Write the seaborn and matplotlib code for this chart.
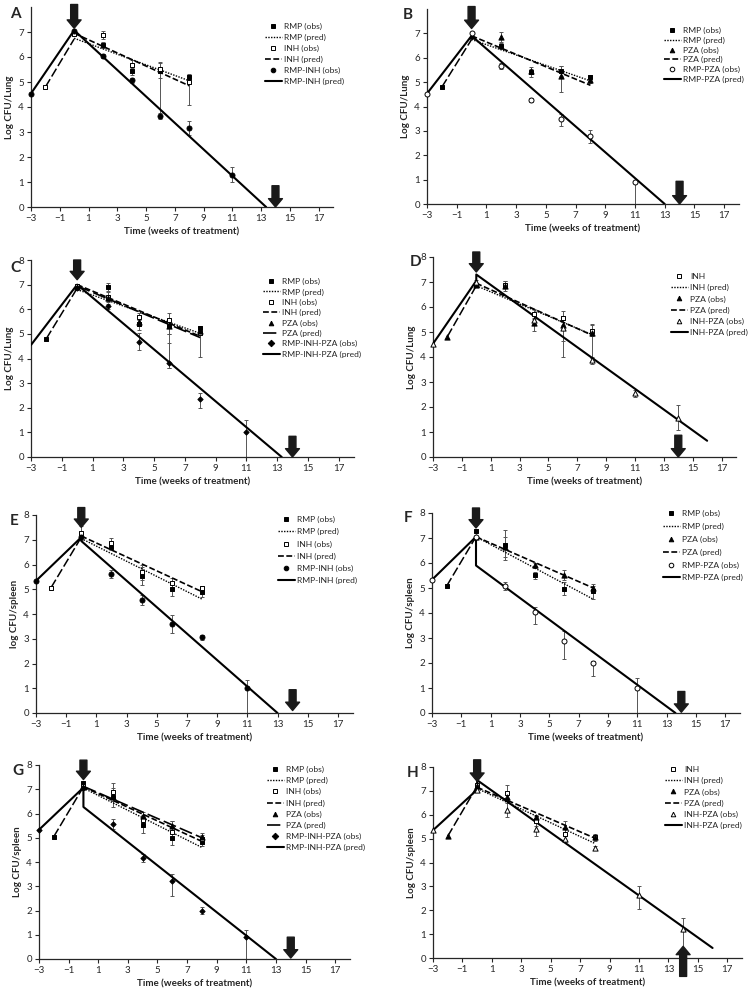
"""Bacterial load (obs vs. model pred) in lung and spleen, panels A-H."""

import matplotlib

matplotlib.use("Agg")
import matplotlib.pyplot as plt
import pandas as pd
import seaborn as sns
from matplotlib.lines import Line2D

# ---- data: (week, log CFU, err down, err up) for obs; (week, log CFU) for pred ----

# A - lung: RMP / INH / RMP-INH
A_RMP_OBS = [(2, 6.50, .12, .12), (4, 5.43, .15, .15), (6, 5.45, .3, .3), (8, 5.22, .1, .1)]
A_INH_OBS = [(-2, 4.80, 0, 0), (0, 6.92, .05, .05), (2, 6.88, .15, .17), (4, 5.70, .2, .2),
             (6, 5.52, 1.96, .28), (8, 5.00, .92, .3)]
A_COMBO_OBS = [(-3, 4.54, 0, 0), (0, 7.05, 0, 0), (2, 6.06, .08, .08), (4, 5.07, .1, .1),
               (6, 3.64, .12, .12), (8, 3.16, .27, .27), (11, 1.30, .3, .3)]
A_RMP_PRED = [(0, 6.75), (8, 5.05)]
A_INH_PRED = [(0, 6.95), (8, 4.85)]
A_COMBO_PRED = [(-3, 4.54), (0, 7.07), (13.35, 0)]
A_RISE = [(-2, 4.80), (0, 6.72)]

# B - lung: RMP / PZA / RMP-PZA
B_RMP_OBS = [(-2, 4.80, 0, 0), (2, 6.48, .12, .12), (4, 5.42, .2, .2), (6, 5.45, .2, .2),
             (8, 5.20, .1, .1)]
B_PZA_OBS = [(0, 6.90, 0, 0), (2, 6.86, .2, .2), (4, 5.45, .1, .1), (6, 5.25, .65, .4),
             (8, 5.08, .1, .1)]
B_COMBO_OBS = [(-3, 4.53, 0, 0), (0, 7.03, 0, 0), (2, 5.66, .12, .12), (4, 4.28, .08, .08),
               (6, 3.49, .3, .2), (8, 2.77, .25, .25), (11, 0.90, .9, 0)]
B_RMP_PRED = [(0, 6.75), (8, 5.05)]
B_PZA_PRED = [(0, 6.90), (8, 4.87)]
B_COMBO_PRED = [(-3, 4.53), (0, 6.90), (13, 0)]
B_RISE = [(-2, 4.80), (0, 6.75)]

# C - lung: RMP / INH / PZA / RMP-INH-PZA
C_RMP_OBS = [(-2, 4.81, 0, 0), (2, 6.90, .15, .15), (4, 5.40, .25, .25), (6, 5.30, .3, .3),
             (8, 5.23, .1, .1)]
C_INH_OBS = [(0, 6.95, 0, 0), (2, 6.50, .2, .2), (4, 5.70, .15, .15), (6, 5.55, 1.95, .3),
             (8, 5.02, .95, .2)]
C_PZA_OBS = [(0, 6.90, 0, 0), (2, 6.45, .1, .1), (4, 5.50, .2, .2), (6, 5.30, .3, .3),
             (8, 5.10, .1, .1)]
C_COMBO_OBS = [(0, 6.85, 0, 0), (2, 6.13, .1, .1), (4, 4.69, .35, .35), (6, 3.82, .2, .8),
               (8, 2.36, .35, .25), (11, 1.00, 1.0, .5)]
C_RMP_PRED = [(0, 6.80), (8, 5.02)]
C_INH_PRED = [(0, 7.00), (8, 4.90)]
C_PZA_PRED = [(0, 6.95), (8, 4.85)]
C_COMBO_PRED = [(-3, 4.55), (0, 7.00), (13.3, 0)]
C_RISE = [(-2, 4.81), (0, 6.85)]

# D - lung: INH / PZA / INH-PZA
D_INH_OBS = [(0, 6.90, 0, 0), (2, 6.90, .15, .15), (4, 5.72, .2, .2), (6, 5.56, .28, .28),
             (8, 5.03, .2, .3)]
D_PZA_OBS = [(-2, 4.82, 0, 0), (0, 6.90, 0, 0), (2, 6.85, .2, .2), (4, 5.38, .35, .2),
             (6, 5.27, 1.25, .3), (8, 4.97, 1.0, .3)]
D_COMBO_OBS = [(-3, 4.53, 0, 0), (0, 7.00, .1, .1), (4, 5.50, .2, .2), (6, 5.15, .5, .5),
               (8, 3.87, .15, .15), (11, 2.55, .15, .15), (14, 1.57, .5, .5)]
D_INH_PRED = [(0, 6.85), (8, 4.90)]
D_PZA_PRED = [(0, 6.95), (8, 4.88)]
D_COMBO_PRED = [(-3, 4.53), (0, 7.05), (0, 7.30), (16, 0.65)]
D_RISE = [(-2, 4.82), (0, 6.85)]

# E - spleen: RMP / INH / RMP-INH
E_RMP_OBS = [(2, 6.69, .1, .1), (4, 5.54, .35, .35), (6, 5.00, .27, .27), (8, 4.90, .2, .2)]
E_INH_OBS = [(-2, 5.07, 0, 0), (0, 7.27, .3, .3), (2, 6.88, .2, .2), (4, 5.69, .3, .3),
             (6, 5.27, .2, .2), (8, 5.04, .1, .1)]
E_COMBO_OBS = [(-3, 5.34, 0, 0), (0, 7.10, 0, 0), (2, 5.62, .15, .15), (4, 4.57, .2, .2),
               (6, 3.59, .35, .35), (8, 3.06, .1, .1), (11, 1.00, 1.0, .35)]
E_RMP_PRED = [(0, 7.05), (8, 4.60)]
E_INH_PRED = [(0, 7.15), (8, 4.90)]
E_COMBO_PRED = [(-3, 5.34), (0, 7.10), (0, 6.95), (13, 0)]
E_RISE = [(-2, 5.07), (0, 7.10)]

# F - spleen: RMP / PZA / RMP-PZA
F_RMP_OBS = [(-2, 5.08, 0, 0), (0, 7.28, 0, 0), (2, 6.73, .6, .6), (4, 5.51, .15, .15),
             (6, 4.98, .25, .25), (8, 4.87, .3, .2)]
F_PZA_OBS = [(0, 7.05, 0, 0), (2, 6.65, .4, .4), (4, 5.91, .1, .1), (6, 5.51, .2, .2),
             (8, 5.02, .15, .15)]
F_COMBO_OBS = [(-3, 5.33, 0, 0), (0, 7.05, 0, 0), (2, 5.08, .15, .15), (4, 4.03, .45, .2),
               (6, 2.90, .75, .4), (8, 1.99, .5, .1), (11, 1.00, 1.0, .4)]
F_RMP_PRED = [(0, 7.05), (8, 4.55)]
F_PZA_PRED = [(0, 7.05), (8, 5.00)]
F_COMBO_PRED = [(-3, 5.33), (0, 7.05), (0, 5.90), (13.6, 0)]
F_RISE = [(-2, 5.08), (0, 7.05)]

# G - spleen: RMP / INH / PZA / RMP-INH-PZA
G_RMP_OBS = [(-2, 5.05, 0, 0), (0, 7.27, 0, 0), (2, 6.67, .4, .4), (4, 5.53, .35, .35),
             (6, 4.97, .25, .25), (8, 4.84, .2, .2)]
G_INH_OBS = [(0, 7.15, 0, 0), (2, 6.89, .3, .35), (4, 5.73, .2, .2), (6, 5.25, .25, .45),
             (8, 4.95, .15, .15)]
G_PZA_OBS = [(0, 7.10, 0, 0), (2, 6.70, .2, .2), (4, 5.90, .15, .15), (6, 5.48, .2, .2),
             (8, 5.05, .15, .15)]
G_COMBO_OBS = [(-3, 5.33, 0, 0), (0, 7.07, 0, 0), (2, 5.58, .2, .2), (4, 4.17, .15, .15),
               (6, 3.21, .6, .3), (8, 2.00, .15, .15), (11, 0.90, .9, .3)]
G_RMP_PRED = [(0, 7.05), (8, 4.60)]
G_INH_PRED = [(0, 7.10), (8, 4.85)]
G_PZA_PRED = [(0, 7.12), (8, 5.00)]
G_COMBO_PRED = [(-3, 5.33), (0, 7.07), (0, 6.27), (13, 0)]
G_RISE = [(-2, 5.05), (0, 7.10)]

# H - spleen: INH / PZA / INH-PZA
H_INH_OBS = [(0, 7.25, 0, 0), (2, 6.91, .35, .35), (4, 5.73, .2, .2), (6, 5.21, .25, .25),
             (8, 5.05, .1, .1)]
H_PZA_OBS = [(-2, 5.10, 0, 0), (0, 7.20, 0, 0), (2, 6.75, .15, .15), (4, 5.90, .1, .1),
             (6, 5.50, .25, .25), (8, 5.05, .15, .15)]
H_COMBO_OBS = [(-3, 5.35, 0, 0), (0, 7.05, 0, 0), (2, 6.19, .3, .3), (4, 5.40, .3, .3),
               (6, 5.00, .15, .15), (8, 4.61, .1, .1), (11, 2.65, .6, .35), (14, 1.23, 1.23, .45)]
H_INH_PRED = [(0, 7.10), (8, 4.80)]
H_PZA_PRED = [(0, 7.15), (8, 5.02)]
H_COMBO_PRED = [(-3, 5.35), (0, 7.05), (0, 7.45), (16, 0.42)]
H_RISE = [(-2, 5.10), (0, 7.20)]

# arrows: (week, tail y, tip y)
ARROWS_A = [(0, 8.1, 7.15), (14, 0.85, 0.0)]
ARROWS_B = [(0, 8.1, 7.2), (14, 0.93, 0.0)]
ARROWS_C = [(0, 8.0, 7.2), (14, 0.84, 0.0)]
ARROWS_D = [(0, 8.2, 7.4), (14, 0.87, 0.0)]
ARROWS_E = [(0, 8.3, 7.5), (14, 0.94, 0.1)]
ARROWS_F = [(0, 8.2, 7.4), (14, 0.86, 0.03)]
ARROWS_G = [(0, 8.2, 7.4), (14, 0.9, 0.04)]
ARROWS_H = [(0, 8.3, 7.4), (14, -0.77, 0.49)]

WEEK_TICKS = list(range(-3, 18, 2))
X_LABEL = "Time (weeks of treatment)"

# ---- styles ----
FIG_W, FIG_H = 750, 992
LEGEND_FS = 6.1
MARKERS = {
    "rmp": ("s", "black", 12),
    "inh": ("s", "white", 12),
    "pza": ("^", "black", 14),
    "rmp_inh": ("o", "black", 13),
    "rmp_pza": ("o", "white", 13),
    "triple": ("D", "black", 7),
    "inh_pza": ("^", "white", 14),
}
LINES = {
    "dot": ((0, (1, 1)), 1.0),
    "dash": ((0, (3.5, 1.5)), 1.2),
    "long": ((0, (8, 2.5)), 1.2),
    "solid": ("-", 1.5),
}


def px_rect(left, top, right, bottom):
    return [left / FIG_W, 1 - bottom / FIG_H, (right - left) / FIG_W, (bottom - top) / FIG_H]


def series(label, obs, mstyle, pred, lstyle):
    return dict(label=label, obs=obs, mstyle=mstyle, pred=pred, lstyle=lstyle)


PANELS = [
    dict(letter="A", box=(31, 7, 333, 207), ylabel="Log CFU/Lung", ymax_tick=7,
         letter_pos=(10, 14), legend_pos=(265, 23, 13.7), rise=A_RISE, arrows=ARROWS_A,
         series=[series("RMP", A_RMP_OBS, "rmp", A_RMP_PRED, "dot"),
                 series("INH", A_INH_OBS, "inh", A_INH_PRED, "dash"),
                 series("RMP-INH", A_COMBO_OBS, "rmp_inh", A_COMBO_PRED, "solid")]),
    dict(letter="B", box=(427, 9, 739, 204), ylabel="Log CFU/Lung", ymax_tick=7,
         letter_pos=(403, 15), legend_pos=(664, 27, 12.5), rise=B_RISE, arrows=ARROWS_B,
         series=[series("RMP", B_RMP_OBS, "rmp", B_RMP_PRED, "dot"),
                 series("PZA", B_PZA_OBS, "pza", B_PZA_PRED, "dash"),
                 series("RMP-PZA", B_COMBO_OBS, "rmp_pza", B_COMBO_PRED, "solid")]),
    dict(letter="C", box=(31, 260, 354, 457), ylabel="Log CFU/Lung", ymax_tick=8,
         letter_pos=(10, 268), legend_pos=(263, 278, 13.1), rise=C_RISE, arrows=ARROWS_C,
         series=[series("RMP", C_RMP_OBS, "rmp", C_RMP_PRED, "dot"),
                 series("INH", C_INH_OBS, "inh", C_INH_PRED, "dash"),
                 series("PZA", C_PZA_OBS, "pza", C_PZA_PRED, "long"),
                 series("RMP-INH-PZA", C_COMBO_OBS, "triple", C_COMBO_PRED, "solid")]),
    dict(letter="D", box=(433, 257, 736, 457), ylabel="Log CFU/Lung", ymax_tick=8,
         letter_pos=(410, 262), legend_pos=(671, 273, 14.0), rise=D_RISE, arrows=ARROWS_D,
         obs_labels={"INH": "INH"},
         series=[series("INH", D_INH_OBS, "inh", D_INH_PRED, "dot"),
                 series("PZA", D_PZA_OBS, "pza", D_PZA_PRED, "dash"),
                 series("INH-PZA", D_COMBO_OBS, "inh_pza", D_COMBO_PRED, "solid")]),
    dict(letter="E", box=(36, 515, 353, 713), ylabel="log CFU/spleen", ymax_tick=8,
         letter_pos=(10, 521), legend_pos=(278, 516, 15.0), rise=E_RISE, arrows=ARROWS_E,
         series=[series("RMP", E_RMP_OBS, "rmp", E_RMP_PRED, "dot"),
                 series("INH", E_INH_OBS, "inh", E_INH_PRED, "dash"),
                 series("RMP-INH", E_COMBO_OBS, "rmp_inh", E_COMBO_PRED, "solid")]),
    dict(letter="F", box=(432, 513, 740, 713), ylabel="Log CFU/spleen", ymax_tick=8,
         letter_pos=(404, 518), legend_pos=(663, 510, 15.6), rise=F_RISE, arrows=ARROWS_F,
         series=[series("RMP", F_RMP_OBS, "rmp", F_RMP_PRED, "dot"),
                 series("PZA", F_PZA_OBS, "pza", F_PZA_PRED, "dash"),
                 series("RMP-PZA", F_COMBO_OBS, "rmp_pza", F_COMBO_PRED, "solid")]),
    dict(letter="G", box=(39, 765, 350, 959), ylabel="Log CFU/spleen", ymax_tick=8,
         letter_pos=(12, 771), legend_pos=(267, 766, 13.9), rise=G_RISE, arrows=ARROWS_G,
         series=[series("RMP", G_RMP_OBS, "rmp", G_RMP_PRED, "dot"),
                 series("INH", G_INH_OBS, "inh", G_INH_PRED, "dash"),
                 series("PZA", G_PZA_OBS, "pza", G_PZA_PRED, "long"),
                 series("RMP-INH-PZA", G_COMBO_OBS, "triple", G_COMBO_PRED, "solid")]),
    dict(letter="H", box=(433, 767, 742, 958), ylabel="Log CFU/spleen", ymax_tick=8,
         letter_pos=(407, 773), legend_pos=(665, 766, 14.0), rise=H_RISE, arrows=ARROWS_H,
         obs_labels={"INH": "INH"},
         series=[series("INH", H_INH_OBS, "inh", H_INH_PRED, "dot"),
                 series("PZA", H_PZA_OBS, "pza", H_PZA_PRED, "dash"),
                 series("INH-PZA", H_COMBO_OBS, "inh_pza", H_COMBO_PRED, "solid")]),
]


def draw_panel(fig, spec):
    ax = fig.add_axes(px_rect(*spec["box"]))
    handles, labels = [], []
    obs_labels = spec.get("obs_labels", {})

    rise = pd.DataFrame(spec["rise"], columns=["week", "logcfu"])
    sns.lineplot(data=rise, x="week", y="logcfu", sort=False, estimator=None, color="black",
                 linewidth=1.1, linestyle=(0, (6, 2)), ax=ax, zorder=3)

    for s in spec["series"]:
        marker, face, size = MARKERS[s["mstyle"]]
        ls, lw = LINES[s["lstyle"]]
        obs = pd.DataFrame(s["obs"], columns=["week", "logcfu", "lo", "hi"])
        bars = obs[(obs["lo"] + obs["hi"]) > 0]
        ax.errorbar(bars["week"], bars["logcfu"], yerr=[bars["lo"], bars["hi"]], fmt="none",
                    ecolor="#555555", elinewidth=0.7, capsize=1.6, capthick=0.7, zorder=2)
        sns.scatterplot(data=obs, x="week", y="logcfu", marker=marker, s=size, color=face,
                        edgecolor="black", linewidth=0.7, ax=ax, zorder=5, clip_on=False,
                        legend=False)
        pred = pd.DataFrame(s["pred"], columns=["week", "logcfu"])
        sns.lineplot(data=pred, x="week", y="logcfu", sort=False, estimator=None, color="black",
                     linewidth=lw, linestyle=ls, ax=ax, zorder=3)

        handles.append(Line2D([], [], linestyle="none", marker=marker, markersize=3.3,
                              markerfacecolor=face, markeredgecolor="black", markeredgewidth=0.7))
        labels.append(obs_labels.get(s["label"], f"{s['label']} (obs)"))
        handles.append(Line2D([], [], color="black", linestyle=ls, linewidth=lw))
        labels.append(f"{s['label']} (pred)")

    for week, tail, tip in spec["arrows"]:
        ax.annotate("", xy=(week, tip), xytext=(week, tail), annotation_clip=False,
                    arrowprops=dict(facecolor="#1a1a1a", edgecolor="#1a1a1a", width=5,
                                    headwidth=10, headlength=6, shrink=0), zorder=6)

    ax.set_xlim(-3, 18)
    ax.set_ylim(0, 8)
    ax.set_xticks(WEEK_TICKS)
    ax.set_yticks(range(0, spec["ymax_tick"] + 1))
    ax.set_xlabel(X_LABEL, fontsize=7, fontweight="bold", labelpad=3)
    ax.set_ylabel(spec["ylabel"], fontsize=7, fontweight="bold", labelpad=3)
    ax.tick_params(labelsize=7, length=3, width=0.8, pad=2)
    sns.despine(ax=ax)
    for side in ("left", "bottom"):
        ax.spines[side].set_linewidth(0.9)

    lx, ly, pitch = spec["legend_pos"]
    em = LEGEND_FS * 100 / 72
    fig.legend(handles, labels, loc="upper left", bbox_to_anchor=(lx / FIG_W, 1 - ly / FIG_H),
               frameon=False, fontsize=LEGEND_FS, handlelength=2.0, handletextpad=0.3,
               labelspacing=(pitch - 1.17 * em) / em, borderaxespad=0, borderpad=0)

    px, py = spec["letter_pos"]
    fig.text(px / FIG_W, 1 - py / FIG_H, spec["letter"], fontsize=11, fontweight="bold",
             ha="left", va="center")


def main():
    sns.set_theme(style="ticks")
    plt.rcParams["font.family"] = ["Lato", "DejaVu Sans"]
    fig = plt.figure(figsize=(FIG_W / 100, FIG_H / 100), dpi=100)
    for spec in PANELS:
        draw_panel(fig, spec)
    fig.savefig("out.png", dpi=100, facecolor="white")
    plt.close(fig)


if __name__ == "__main__":
    main()
